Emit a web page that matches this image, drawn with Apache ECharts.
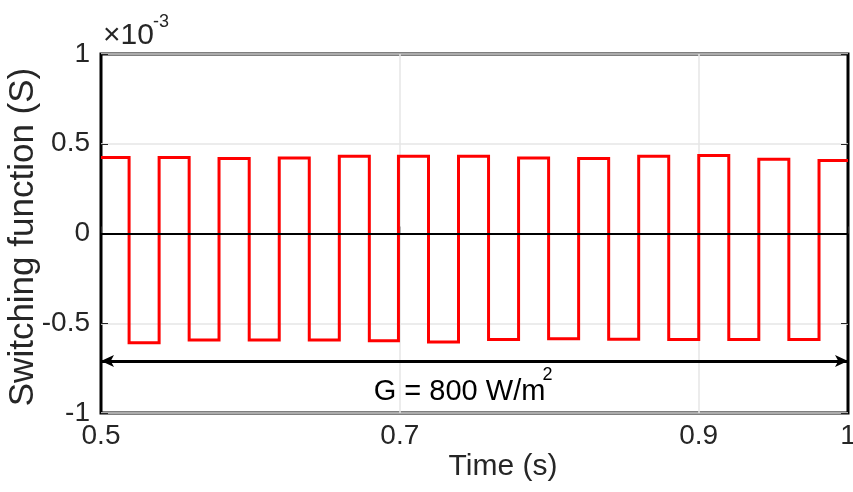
<!DOCTYPE html>
<html><head><meta charset="utf-8">
<script src="https://cdn.jsdelivr.net/npm/echarts@6/dist/echarts.min.js"></script>
<style>html,body{margin:0;padding:0;background:#fff}#c{width:853px;height:492px}</style>
</head><body><div id="c"></div>
<script>
// Data
const switchTimes = [0.5188, 0.5389, 0.5590, 0.5790, 0.5992, 0.6193, 0.6394, 0.6595,
  0.6796, 0.6991, 0.7192, 0.7393, 0.7594, 0.7795, 0.7996, 0.8197,
  0.8398, 0.8599, 0.8800, 0.9001, 0.9202, 0.9403, 0.9604, 0.9806];
const highLevels = [0.424, 0.424, 0.418, 0.420, 0.430, 0.430, 0.430, 0.420, 0.418, 0.430, 0.435, 0.413, 0.407];
const lowLevels = [-0.609, -0.594, -0.594, -0.594, -0.598, -0.604, -0.591, -0.587, -0.589, -0.591, -0.591, -0.591];
const xTicks = [0.5, 0.7, 0.9, 1];
const yTicks = [-1, -0.5, 0, 0.5, 1];
const xGridLines = [0.7, 0.9];
const arrowLevel = -0.71;
const arrowRange = [0.5, 1];
const annotationPos = [0.742, -0.885];
const annotationText = 'G = 800 W/m';
const annotationSup = '2';
const yTitle = 'Switching function (S)';
const xTitle = 'Time (s)';
const FONT = '"Liberation Sans", Arial, sans-serif';

// Build step waveform
const levels = [];
for (let i = 0; i < highLevels.length; i++) {
  levels.push(highLevels[i]);
  if (i < lowLevels.length) levels.push(lowLevels[i]);
}
const pts = [[xTicks[0], levels[0]]];
switchTimes.forEach((t, i) => { pts.push([t, levels[i]]); pts.push([t, levels[i + 1]]); });
pts.push([xTicks[xTicks.length - 1], levels[levels.length - 1]]);

const fmtY = v => { const r = Math.round(v * 10) / 10; return yTicks.includes(r) ? String(r) : ''; };
const fmtX = v => String(Math.round(v * 10) / 10);

const chart = echarts.init(document.getElementById('c'), null, {renderer: 'canvas'});
const option = {
  animation: false,
  backgroundColor: '#fff',
  grid: {left: 101, right: 5, top: 54, bottom: 79, show: true, borderColor: '#000', borderWidth: 3,
    backgroundColor: 'transparent', containLabel: false, outerBoundsMode: 'none'},
  xAxis: [{
    type: 'value', min: 0.5, max: 1, interval: 0.1,
    axisLine: {show: false},
    axisTick: {show: true, inside: true, length: 7, customValues: xTicks, lineStyle: {color: '#262626', width: 1}},
    axisLabel: {customValues: xTicks, formatter: fmtX, color: '#262626', fontSize: 28, fontFamily: FONT, margin: 9},
    splitLine: {show: false}
  }],
  yAxis: [{
    type: 'value', min: -1, max: 1, interval: 0.5,
    axisLine: {show: false},
    axisTick: {show: true, inside: true, length: 7, lineStyle: {color: '#262626', width: 1}},
    axisLabel: {formatter: fmtY, color: '#262626', fontSize: 28, fontFamily: FONT, margin: 11},
    splitLine: {show: true, lineStyle: {color: '#e6e6e6', width: 1.5}}
  }, {
    type: 'value', min: -1, max: 1, interval: 0.5, position: 'right',
    axisLine: {show: false},
    axisTick: {show: true, inside: true, length: 7, lineStyle: {color: '#262626', width: 1}},
    axisLabel: {show: false}, splitLine: {show: false}
  }],
  series: [{
    type: 'line', data: pts, showSymbol: false, symbol: 'none', z: 3,
    lineStyle: {color: '#ff0000', width: 3, join: 'miter'},
    markLine: {
      silent: true, symbol: ['none', 'none'], animation: false, label: {show: false},
      data: xGridLines.map(v => ({xAxis: v, lineStyle: {color: '#e6e6e6', width: 1.5, type: 'solid'}})),
      z: 1
    }
  }, {
    type: 'line', data: [], z: 4,
    markLine: {
      silent: true, animation: false, label: {show: false}, symbol: ['none', 'none'],
      data: [{yAxis: 0, lineStyle: {color: '#000', width: 2, type: 'solid'}}]
    }
  }, {
    type: 'line', data: [], z: 5,
    markLine: {
      silent: true, animation: false, label: {show: false},
      symbol: ['arrow', 'arrow'], symbolSize: [9, 13],
      data: [[{coord: [arrowRange[0], arrowLevel]}, {coord: [arrowRange[1], arrowLevel]}]],
      lineStyle: {color: '#000', width: 3, type: 'solid'}
    }
  }]
};
chart.setOption(option);

const p = chart.convertToPixel({gridIndex: 0}, annotationPos);
chart.setOption({
  graphic: [
    {type: 'text', x: 103, y: 36, style: {text: '×10', fontSize: 30, fontFamily: FONT, fill: '#262626', verticalAlign: 'middle'}},
    {type: 'text', x: 153, y: 22, style: {text: '-3', fontSize: 18, fontFamily: FONT, fill: '#262626', verticalAlign: 'middle'}},
    {type: 'text', x: p[0] - 3, y: p[1], style: {text: annotationText, fontSize: 29, fontFamily: FONT, fill: '#000', align: 'center', verticalAlign: 'middle'}},
    {type: 'text', x: p[0] + 80, y: p[1] - 17, style: {text: annotationSup, fontSize: 18, fontFamily: FONT, fill: '#000', align: 'left', verticalAlign: 'middle'}},
    {type: 'text', x: 503, y: 467, style: {text: xTitle, fontSize: 30, fontFamily: FONT, fill: '#262626', align: 'center', verticalAlign: 'middle'}},
    {type: 'text', x: 23, y: 237, rotation: Math.PI / 2, style: {text: yTitle, fontSize: 35, fontFamily: FONT, fill: '#262626', align: 'center', verticalAlign: 'middle'}}
  ]
});
</script></body></html>
